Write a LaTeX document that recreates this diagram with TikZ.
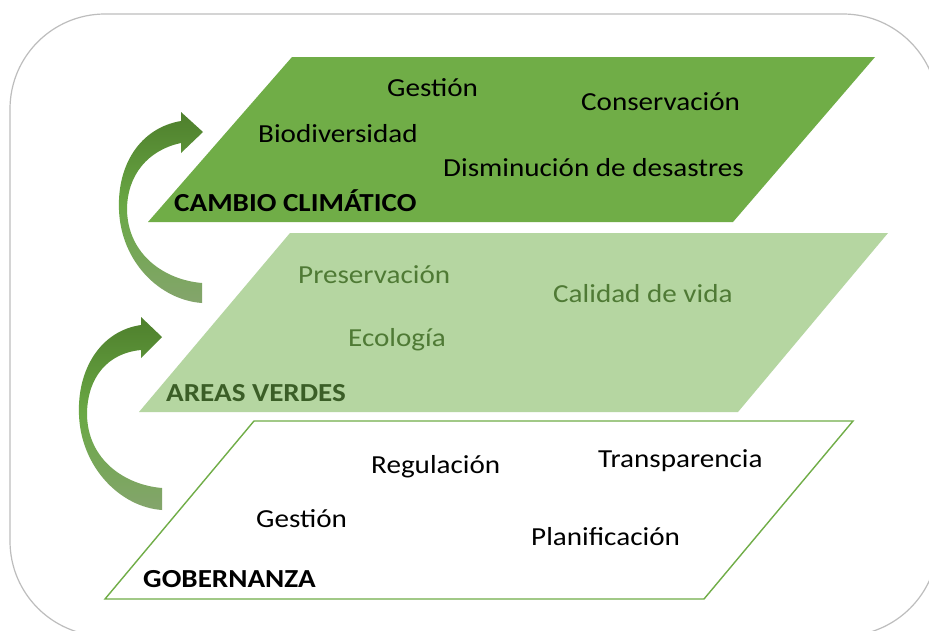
\documentclass[tikz,border=0pt]{standalone}
\usepackage{fontspec}
\setmainfont{Carlito}[FakeStretch=1.12]
\definecolor{dkgreen}{HTML}{70AD47}
\definecolor{ltgreen}{HTML}{B5D6A1}
\definecolor{midtext}{HTML}{4F7A35}
\definecolor{boldgreen}{HTML}{3B5E27}
\definecolor{framegray}{HTML}{BDBDBD}
\definecolor{arrtop}{HTML}{4E7F2C}
\definecolor{arrmid}{HTML}{6AA845}
\definecolor{arrbot}{HTML}{84A56C}
\tikzset{
  lbl/.style={anchor=base west, inner sep=0pt, font=\fontsize{26}{30}\selectfont},
  hdr/.style={anchor=base west, inner sep=0pt, font=\fontsize{26}{30}\selectfont\bfseries},
  curvarrow/.style={top color=arrtop, bottom color=arrbot, middle color=arrmid, draw=none},
}
\begin{document}
\begin{tikzpicture}[x=1pt, y=-1pt]
\useasboundingbox (0,0) rectangle (929,630);
\clip (0,0) rectangle (929,630);
\fill[white] (0,0) rectangle (929,630);
% frame
\draw[framegray, line width=1.2pt, rounded corners=95pt] (10,14) rectangle (938,636);
% top plane
\fill[dkgreen] (292,57) -- (875,57) -- (733,222) -- (148,222) -- cycle;
% middle plane
\fill[ltgreen] (290,233) -- (888,233) -- (738,412) -- (139,412) -- cycle;
% bottom plane
\draw[dkgreen, line width=1.4pt, fill=white] (254,421) -- (853,421) -- (704,599) -- (105,599) -- cycle;
% curved arrows
\path[curvarrow] (202,303) -- (202,283)
  .. controls (165,280) and (128,255) .. (127,210)
  .. controls (127,175) and (148,150) .. (181,143)
  -- (181,153) -- (203,132) -- (181,112) -- (181,121)
  .. controls (140,128) and (117,165) .. (119,210)
  .. controls (121,262) and (160,300) .. (202,303) -- cycle;
\begin{scope}[shift={(-40,205)}]
\path[curvarrow] (202,305) -- (202,283)
  .. controls (165,280) and (128,255) .. (127,210)
  .. controls (127,172) and (148,148) .. (181,145)
  -- (181,153) -- (202,132) -- (181,112) -- (181,120)
  .. controls (140,126) and (117,165) .. (119,210)
  .. controls (121,262) and (160,302) .. (202,305) -- cycle;
\end{scope}
% top texts
\node[lbl] (t1) at (387,96) {Gestión};
\node[lbl] (t2) at (581,110) {Conservación};
\node[lbl] (t3) at (258,142) {Biodiversidad};
\node[lbl] (t4) at (443,176) {Disminución de desastres};
\node[hdr] (t5) at (174,211) {CAMBIO CLIMÁTICO};
% middle texts
\node[lbl, text=midtext] (m1) at (298,283) {Preservación};
\node[lbl, text=midtext] (m2) at (553,302) {Calidad de vida};
\node[lbl, text=midtext] (m3) at (348,346) {Ecología};
\node[hdr, text=boldgreen] (m4) at (166,401) {AREAS VERDES};
% bottom texts
\node[lbl] (b1) at (371,473) {Regulación};
\node[lbl] (b2) at (598,467) {Transparencia};
\node[lbl] (b3) at (256,527) {Gestión};
\node[lbl] (b4) at (531,545) {Planificación};
\node[hdr] (b5) at (143,587) {GOBERNANZA};
\end{tikzpicture}
\end{document}
